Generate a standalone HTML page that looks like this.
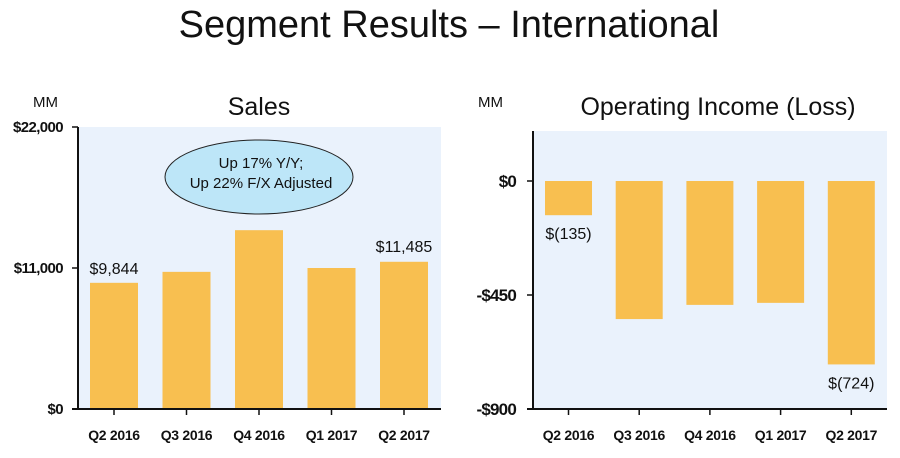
<!DOCTYPE html>
<html><head><meta charset="utf-8"><style>
body{margin:0;width:900px;height:453px;background:#fff;font-family:"Liberation Sans",sans-serif;overflow:hidden}
</style></head><body>
<svg width="900" height="453" font-family="Liberation Sans, sans-serif">
<text x="449" y="37" font-size="38" text-anchor="middle" fill="#111">Segment Results – International</text>
<g id="left"></g>
<g id="right"></g>
</svg>
<script>
const categories=["Q2 2016","Q3 2016","Q4 2016","Q1 2017","Q2 2017"];
const salesValues=[9844,10700,13950,11000,11485];
const salesTicks=[0,11000,22000];
const salesTickLabels=["$0","$11,000","$22,000"];
const opValues=[-135,-545,-489,-481,-724];
const opTicks=[0,-450,-900];
const opTickLabels=["$0","-$450","-$900"];
const NS="http://www.w3.org/2000/svg";
function mk(p,tag,a,txt){const e=document.createElementNS(NS,tag);for(const k in a)e.setAttribute(k,a[k]);if(txt!=null)e.textContent=txt;p.appendChild(e);return e;}
const L=document.getElementById('left');
const sy=v=>409-v/22000*282;
const sx=i=>114+i*72.5;
let e=mk(L,'rect',{x:78,y:127,width:363,height:282,fill:'#eaf2fc'});

e=mk(L,'text',{x:259,y:115,'font-size':25,'text-anchor':'middle',fill:'#111'},'Sales');

e=mk(L,'text',{x:33,y:107,'font-size':15,fill:'#111'},'MM');

salesValues.forEach((v,i)=>{
 const b=mk(L,'rect',{x:sx(i)-24,y:sy(v),width:48,height:409-sy(v),fill:'#f8bf50'});
 
});
salesTicks.forEach((t,i)=>{
 const x=mk(L,'text',{x:63,y:sy(t)+5,'font-size':15,'font-weight':'bold','text-anchor':'end','letter-spacing':-0.6,fill:'#111'},salesTickLabels[i]);
 
 mk(L,'line',{x1:72,x2:78,y1:sy(t),y2:sy(t),stroke:'#111','stroke-width':1.5});
});
mk(L,'line',{x1:78,x2:78,y1:127,y2:409,stroke:'#111','stroke-width':2});
mk(L,'line',{x1:72,x2:441,y1:409,y2:409,stroke:'#111','stroke-width':2});
categories.forEach((c,i)=>{
 mk(L,'line',{x1:sx(i),x2:sx(i),y1:409,y2:415,stroke:'#111','stroke-width':1.5});
 const x=mk(L,'text',{x:sx(i),y:440,'font-size':14,'font-weight':'bold','text-anchor':'middle','letter-spacing':-0.3,fill:'#111'},c);
 
});
e=mk(L,'text',{x:sx(0),y:sy(salesValues[0])-9,'font-size':16,'text-anchor':'middle',fill:'#111'},'$9,844');

e=mk(L,'text',{x:sx(4),y:sy(salesValues[4])-10,'font-size':16,'text-anchor':'middle',fill:'#111'},'$11,485');

e=mk(L,'ellipse',{cx:259,cy:177,rx:94,ry:37,fill:'#bde6f8',stroke:'#222','stroke-width':1});

mk(L,'text',{x:261,y:168,'font-size':15,'text-anchor':'middle',fill:'#111'},'Up 17% Y/Y;');
mk(L,'text',{x:261,y:188,'font-size':15,'text-anchor':'middle',fill:'#111'},'Up 22% F/X Adjusted');

const R=document.getElementById('right');
const oy=v=>181-v/900*228;
const ox=i=>568.5+i*70.7;
e=mk(R,'rect',{x:533,y:131,width:354,height:278,fill:'#eaf2fc'});

e=mk(R,'text',{x:718,y:115,'font-size':25,'text-anchor':'middle',fill:'#111'},'Operating Income (Loss)');

e=mk(R,'text',{x:478,y:107,'font-size':15,fill:'#111'},'MM');

opValues.forEach((v,i)=>{
 const b=mk(R,'rect',{x:ox(i)-23.5,y:oy(0),width:47,height:oy(v)-oy(0),fill:'#f8bf50'});
 
});
opTicks.forEach((t,i)=>{
 const x=mk(R,'text',{x:516,y:oy(t)+6,'font-size':17,'font-weight':'bold','text-anchor':'end','letter-spacing':-0.8,fill:'#111'},opTickLabels[i]);
 
 mk(R,'line',{x1:527,x2:533,y1:oy(t),y2:oy(t),stroke:'#111','stroke-width':1.5});
});
mk(R,'line',{x1:533,x2:533,y1:131,y2:409,stroke:'#111','stroke-width':2});
mk(R,'line',{x1:527,x2:887,y1:409,y2:409,stroke:'#111','stroke-width':2});
categories.forEach((c,i)=>{
 mk(R,'line',{x1:ox(i),x2:ox(i),y1:409,y2:415,stroke:'#111','stroke-width':1.5});
 const x=mk(R,'text',{x:ox(i),y:440,'font-size':14,'font-weight':'bold','text-anchor':'middle','letter-spacing':-0.3,fill:'#111'},c);
 
});
e=mk(R,'text',{x:ox(0),y:oy(opValues[0])+24,'font-size':16,'text-anchor':'middle',fill:'#111'},'$(135)');

e=mk(R,'text',{x:ox(4),y:oy(opValues[4])+24,'font-size':16,'text-anchor':'middle',fill:'#111'},'$(724)');

</script>
</body></html>
